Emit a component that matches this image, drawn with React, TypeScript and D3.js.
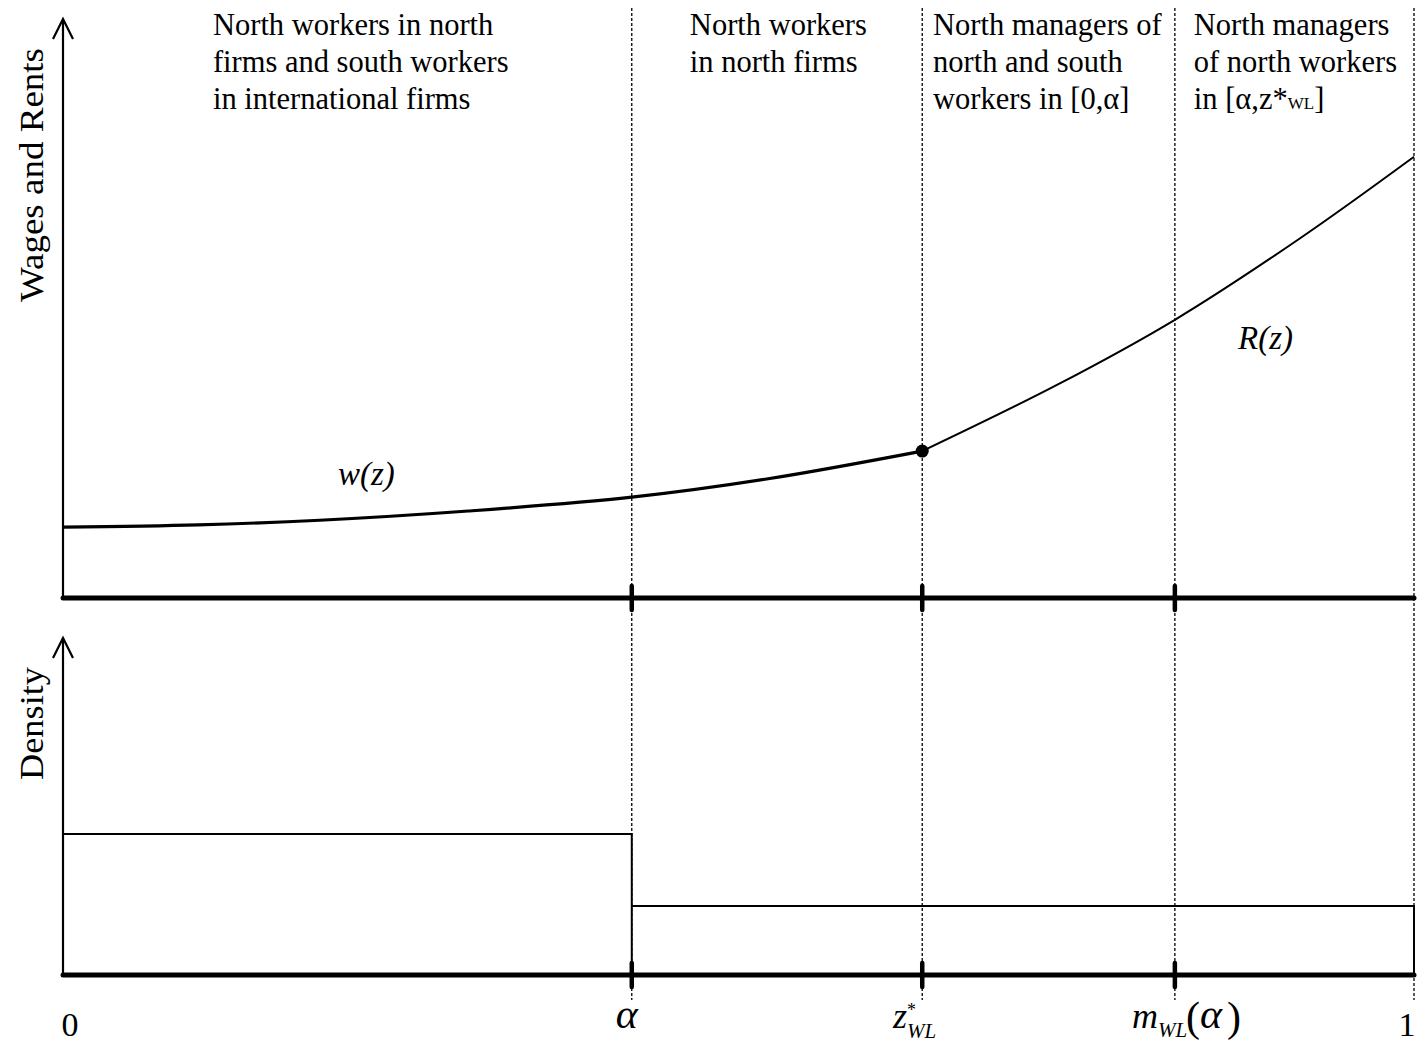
import React from "react";
import * as d3 from "d3";

// Wage schedule w(z) for z in [0, z*_WL]
const wZ = [0, 0.1, 0.19, 0.3, 0.421, 0.522, 0.636];
const wVal = [0.123, 0.127, 0.135, 0.151, 0.175, 0.207, 0.255];

// Rent schedule R(z) for z in [z*_WL, 1]
const rZ = [0.636, 0.735, 0.823, 0.916, 1];
const rVal = [0.255, 0.369, 0.483, 0.625, 0.766];

// Skill density: step at alpha
const densZ = [0, 0.421, 1];
const densVal = [0.421, 0.206];

// Thresholds on the skill axis
const breakZ = [0.421, 0.636, 0.823, 1];

// Region captions (one array of lines per region)
const regionLeft = [0.111, 0.464, 0.644, 0.837];
const regionLines = [
  ["North workers in north", "firms and south workers", "in international firms"],
  ["North workers", "in north firms"],
  ["North managers of", "north and south", "workers in [0,\u03b1]"],
  ["North managers", "of north workers", "in [\u03b1,z*"],
];

const W = 1426;
const H = 1049;
const serif = "'Liberation Serif', 'Times New Roman', serif";

export default function App() {
  const x = d3.scaleLinear().domain([0, 1]).range([63, 1414]);
  const yTop = d3.scaleLinear().domain([0, 1]).range([598, 22]);
  const yBot = d3.scaleLinear().domain([0, 1]).range([975, 640]);

  const wPts: [number, number][] = wZ.map((z, i) => [z, wVal[i]]);
  const rPts: [number, number][] = rZ.map((z, i) => [z, rVal[i]]);

  const line = d3
    .line<[number, number]>()
    .x((d) => x(d[0]))
    .y((d) => yTop(d[1]))
    .curve(d3.curveCatmullRom.alpha(0.5));

  const densPath =
    `M${x(densZ[0])},${yBot(densVal[0])}` +
    `H${x(densZ[1])}V${yBot(0)}` +
    `M${x(densZ[1])},${yBot(densVal[0])}V${yBot(densVal[1])}` +
    `H${x(densZ[2])}V${yBot(0)}`;

  const x0 = x(0);
  const zStar = rZ[0];

  const arrow = (tip: number) =>
    `M${x0 - 10},${tip + 20}L${x0},${tip}L${x0 + 10},${tip + 20}`;

  return (
    <svg
      width={W}
      height={H}
      style={{ position: "absolute", left: 0, top: 0, background: "#fff" }}
      fontFamily={serif}
    >
      <rect width={W} height={H} fill="#fff" />

      {/* dotted region separators */}
      {breakZ.map((z, i) => (
        <line
          key={"sep" + i}
          x1={x(z)}
          x2={x(z)}
          y1={8}
          y2={1000}
          stroke="#000"
          strokeWidth={1.3}
          strokeDasharray="3,2"
        />
      ))}

      {/* region captions */}
      {regionLines.map((lines, i) => (
        <text key={"cap" + i} fontSize={30.5} fill="#000">
          {lines.map((l, j) => (
            <tspan key={j} x={x(regionLeft[i])} y={35 + j * 37}>
              {l}
              {i === 3 && j === 2 ? (
                <>
                  <tspan fontSize={17}>WL</tspan>
                  <tspan>]</tspan>
                </>
              ) : null}
            </tspan>
          ))}
        </text>
      ))}

      {/* y axes */}
      <line x1={x0} x2={x0} y1={yTop(0)} y2={yTop(1) - 2} stroke="#000" strokeWidth={2.2} />
      <path d={arrow(19)} fill="none" stroke="#000" strokeWidth={2.2} />
      <line x1={x0} x2={x0} y1={yBot(0)} y2={yBot(1) - 2} stroke="#000" strokeWidth={2.2} />
      <path d={arrow(638)} fill="none" stroke="#000" strokeWidth={2.2} />

      {/* axis titles */}
      <text
        transform={`translate(43,${(302 + 48) / 2}) rotate(-90)`}
        textAnchor="middle"
        fontSize={33}
        textLength={254}
        lengthAdjust="spacingAndGlyphs"
      >
        Wages and Rents
      </text>
      <text
        transform={`translate(43,${(667 + 780) / 2}) rotate(-90)`}
        textAnchor="middle"
        fontSize={33}
        textLength={113}
        lengthAdjust="spacingAndGlyphs"
      >
        Density
      </text>

      {/* wage and rent curves */}
      <path d={line(wPts) || ""} fill="none" stroke="#000" strokeWidth={3.2} />
      <path d={line(rPts) || ""} fill="none" stroke="#000" strokeWidth={2} />
      <circle cx={x(zStar)} cy={yTop(rVal[0])} r={6.5} fill="#000" />

      <text x={338} y={485} fontSize={33} fontStyle="italic">
        w(z)
      </text>
      <text x={1238} y={349} fontSize={33} fontStyle="italic">
        R(z)
      </text>

      {/* density step */}
      <path d={densPath} fill="none" stroke="#000" strokeWidth={2} />

      {/* x axes with ticks */}
      {[yTop(0), yBot(0)].map((yy, k) => (
        <g key={"ax" + k}>
          <line
            x1={x(0)}
            x2={x(1)}
            y1={yy}
            y2={yy}
            stroke="#000"
            strokeWidth={5}
            strokeLinecap="round"
          />
          {breakZ.slice(0, 3).map((z, i) => (
            <line
              key={i}
              x1={x(z)}
              x2={x(z)}
              y1={yy - 12}
              y2={yy + 12}
              stroke="#000"
              strokeWidth={4.5}
              strokeLinecap="round"
            />
          ))}
        </g>
      ))}

      {/* tick labels */}
      <text x={x(0) + 7} y={1036} fontSize={34} textAnchor="middle">
        0
      </text>
      <text x={x(1) - 7} y={1036} fontSize={34} textAnchor="middle">
        1
      </text>
      <text x={x(breakZ[0]) - 5} y={1028} fontSize={42} fontStyle="italic" textAnchor="middle">
        {"\u03b1"}
      </text>
      <text x={893} y={1028} fontSize={36} fontStyle="italic">
        z
      </text>
      <text x={907} y={1016} fontSize={18}>
        *
      </text>
      <text x={907} y={1038} fontSize={21} fontStyle="italic">
        WL
      </text>
      <text x={1132} y={1028} fontSize={36} fontStyle="italic">
        m
      </text>
      <text x={1158} y={1037} fontSize={21} fontStyle="italic">
        WL
      </text>
      <text x={1186} y={1031} fontSize={42}>
        (
      </text>
      <text x={1200} y={1028} fontSize={42} fontStyle="italic">
        {"\u03b1"}
      </text>
      <text x={1227} y={1031} fontSize={42}>
        )
      </text>
    </svg>
  );
}
